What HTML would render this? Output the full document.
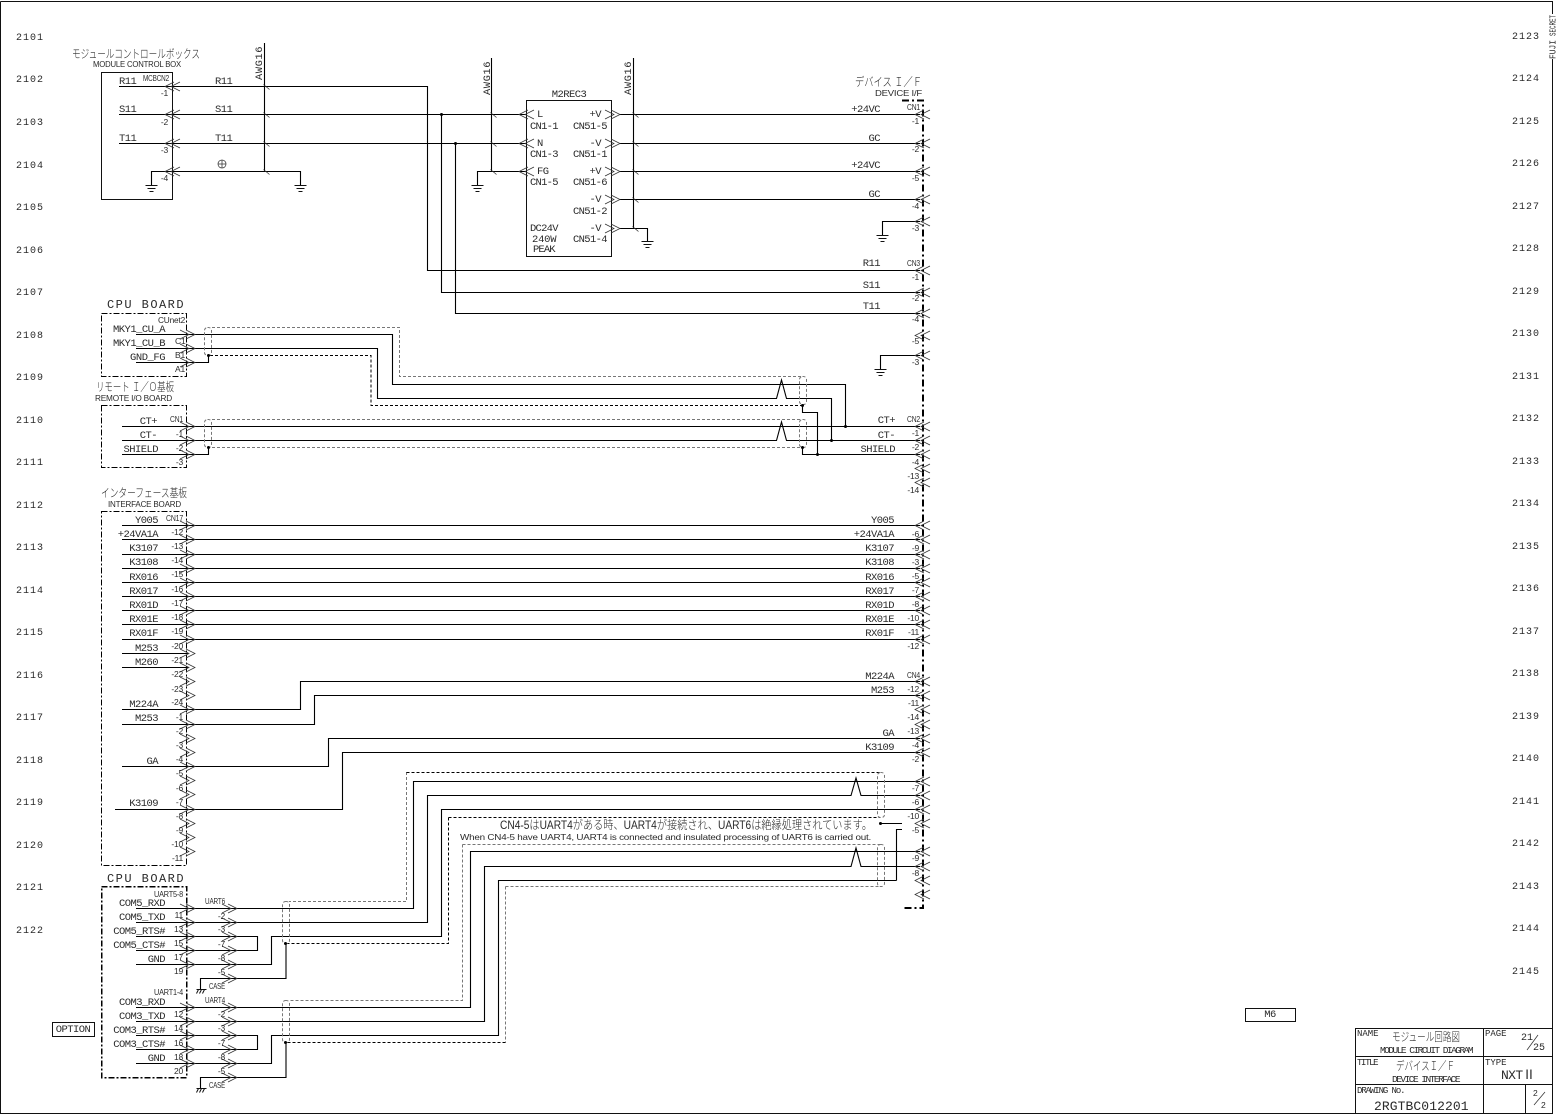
<!DOCTYPE html>
<html lang="ja"><head><meta charset="utf-8"><title>Module circuit diagram</title>
<style>
html,body{margin:0;padding:0;background:#fff}
svg{display:block}
text{fill:#2a2a2a;font-family:"Liberation Mono","Noto Sans CJK JP",monospace;font-size:10.5px;letter-spacing:-.55px}
text:not([transform]):not(.s):not(.j){transform:translateY(-1px)}
.e{text-anchor:end}
.m{text-anchor:middle}
.s{font-family:"Liberation Sans",sans-serif;font-size:8.5px;letter-spacing:-.2px}
.n{font-size:10px;letter-spacing:0}
.j{font-family:"Liberation Sans","Noto Sans CJK JP",sans-serif;font-size:12px;letter-spacing:0;font-weight:300}
.w{fill:none;stroke:#000;stroke-width:1.1}
.c{fill:none;stroke:#333;stroke-width:.75}
.k{fill:none;stroke:#000;stroke-width:1;stroke-dasharray:3 2}
.y{fill:none;stroke:#777;stroke-width:1;stroke-dasharray:3 2}
.b{fill:none;stroke:#000;stroke-width:1;stroke-dasharray:6 2 2 2}
.B{fill:none;stroke:#000;stroke-width:2;stroke-dasharray:7 3 2 3}
.f{fill:none;stroke:#111;stroke-width:1}
</style></head><body>
<svg width="1556" height="1114" viewBox="0 0 1556 1114" xmlns="http://www.w3.org/2000/svg">
<defs>
<path id="l" class="c" d="M9-4.5L0 0L9 4.5M15-4.5L6 0L15 4.5"/>
<path id="r" class="c" d="M-9-4.5L0 0L-9 4.5M-15-4.5L-6 0L-15 4.5"/>
<path id="g" class="f" d="M-6 0H6M-4 3H4M-2 6H2"/>
<path id="t" class="c" d="M-1-2L5 3"/>
<path id="h" class="f" d="M-5 0H5M-5 4L-3 0M-2 4L0 0M1 4L3 0"/>
</defs>
<rect width="1556" height="1114" fill="#fff"/>
<!-- frame -->
<path class="f" d="M0.5 1.5H1552.5V14M1552.5 59V1113.5H0.5V1.5"/>
<text transform="translate(1555.5,36) rotate(-90)" textLength="21" lengthAdjust="spacingAndGlyphs" style="font-size:9.5px;letter-spacing:0">SECRET</text>
<text transform="translate(1555.5,59) rotate(-90)" textLength="19" lengthAdjust="spacingAndGlyphs" style="font-size:9.5px;letter-spacing:0">FUJI</text>
<!-- row numbers left -->
<g class="rn">
<text class="n" x="16" y="41" textLength="27">2101</text>
<text class="n" x="16" y="83" textLength="27">2102</text>
<text class="n" x="16" y="126" textLength="27">2103</text>
<text class="n" x="16" y="169" textLength="27">2104</text>
<text class="n" x="16" y="211" textLength="27">2105</text>
<text class="n" x="16" y="254" textLength="27">2106</text>
<text class="n" x="16" y="296" textLength="27">2107</text>
<text class="n" x="16" y="339" textLength="27">2108</text>
<text class="n" x="16" y="381" textLength="27">2109</text>
<text class="n" x="16" y="424" textLength="27">2110</text>
<text class="n" x="16" y="466" textLength="27">2111</text>
<text class="n" x="16" y="509" textLength="27">2112</text>
<text class="n" x="16" y="551" textLength="27">2113</text>
<text class="n" x="16" y="594" textLength="27">2114</text>
<text class="n" x="16" y="636" textLength="27">2115</text>
<text class="n" x="16" y="679" textLength="27">2116</text>
<text class="n" x="16" y="721" textLength="27">2117</text>
<text class="n" x="16" y="764" textLength="27">2118</text>
<text class="n" x="16" y="806" textLength="27">2119</text>
<text class="n" x="16" y="849" textLength="27">2120</text>
<text class="n" x="16" y="891" textLength="27">2121</text>
<text class="n" x="16" y="934" textLength="27">2122</text>
<text class="n" x="1512" y="40" textLength="27">2123</text>
<text class="n" x="1512" y="82" textLength="27">2124</text>
<text class="n" x="1512" y="125" textLength="27">2125</text>
<text class="n" x="1512" y="167" textLength="27">2126</text>
<text class="n" x="1512" y="210" textLength="27">2127</text>
<text class="n" x="1512" y="252" textLength="27">2128</text>
<text class="n" x="1512" y="295" textLength="27">2129</text>
<text class="n" x="1512" y="337" textLength="27">2130</text>
<text class="n" x="1512" y="380" textLength="27">2131</text>
<text class="n" x="1512" y="422" textLength="27">2132</text>
<text class="n" x="1512" y="465" textLength="27">2133</text>
<text class="n" x="1512" y="507" textLength="27">2134</text>
<text class="n" x="1512" y="550" textLength="27">2135</text>
<text class="n" x="1512" y="592" textLength="27">2136</text>
<text class="n" x="1512" y="635" textLength="27">2137</text>
<text class="n" x="1512" y="677" textLength="27">2138</text>
<text class="n" x="1512" y="720" textLength="27">2139</text>
<text class="n" x="1512" y="762" textLength="27">2140</text>
<text class="n" x="1512" y="805" textLength="27">2141</text>
<text class="n" x="1512" y="847" textLength="27">2142</text>
<text class="n" x="1512" y="890" textLength="27">2143</text>
<text class="n" x="1512" y="932" textLength="27">2144</text>
<text class="n" x="1512" y="975" textLength="27">2145</text>
</g>

<!-- boxes -->
<g class="f" shape-rendering="crispEdges">
<rect x="101.5" y="72.5" width="71" height="127"/>
<rect x="526.5" y="100.5" width="85" height="156"/>
<rect x="1245.5" y="1008.5" width="50" height="13"/>
<rect x="52.5" y="1022.5" width="42" height="14"/>
<path d="M1355.5 1113V1028.5H1552M1483.5 1028.5V1113M1355.5 1056.5H1552M1355.5 1084.5H1552M1525.5 1084.5V1113"/>
</g>
<g shape-rendering="crispEdges">
<rect class="b" x="101.5" y="313.5" width="85" height="63"/>
<rect class="b" x="101.5" y="405.5" width="85" height="62"/>
<rect class="b" x="101.5" y="511.5" width="85" height="354"/>
<rect class="b" style="stroke-width:1.5" x="101.5" y="886.5" width="85" height="191"/>
<path class="B" d="M902 100.5H923V908H902"/>
</g>

<!-- solid wires -->
<path class="w" d="M119 86.5H427.5V270.5H920M119 114.5H527M119 143.5H527M441.5 114.5V292.5H920M455.5 143.5V313.5H920M151.5 185V171.5H300.5V185M477.5 185V171.5H527
M620 114.5H920M620 143.5H920M620 171.5H920M620 199.5H920M620 228.5H647.5V241M882.5 235V221.5H920M880.5 369V355.5H920
M264.5 43V171M491.5 58V171M633.5 58V228
M136 334.5H392.5V384.5H845.5V426.5M136 348.5H377.5V398.5H776.5L781.5 380L786.5 398.5H831.5V440.5M136 362.5H208.5V355
M122 426.5H920M122 440.5H776.5L781.5 422L786.5 440.5H920M122 454.5H208.5V447M802.5 447V454.5H920M802.5 405V412.5H817.5V454.5
M122 525.5H920M122 539.5H920M122 554.5H920M122 568.5H920M122 582.5H920M122 596.5H920M122 610.5H920M122 624.5H920M122 639.5H920M122 653.5H188M122 667.5H188
M122 709.5H300.5V681.5H920M122 724.5H314.5V695.5H920M122 766.5H328.5V738.5H920M115 809.5H342.5V752.5H920
M136 908.5H413.5V781.5H920M136 922.5H427.5V795.5H851L856 778L861 795.5H920M136 936.5H257.5V950.5H136M136 964.5H271.5V936.5H441.5V809.5H920M200.5 989V978.5H286V943
M880.5 823.5H902M896.5 880.5V829.5H902
M136 1007.5H470.5V851.5H920M136 1021.5H484.5V866.5H851L856 848L861 866.5H920M136 1035.5H257.5V1049.5H136M136 1063.5H271.5V1035.5H498.5V880.5H896.5M200.5 1088V1077.5H286V1042"/>

<!-- dashed wires and shields -->
<path class="y" d="M212 327.5H399.5V376.5H802M212 419.5H802M212 447.5H802M406.5 772V901.5H289M462.5 844.5V1000.5H289M462.5 844.5H880M505.5 886.5V1042.5M505.5 886.5H880"/>
<path class="k" d="M210 355.5H371V405.5H802M406.5 772.5H880M448.5 817.5H880M448.5 817.5V943.5H286M505.5 1042.5H286"/>
<g class="y">
<rect class="y" x="204.5" y="327.5" width="7" height="28" rx="3"/>
<rect class="y" x="204.5" y="419.5" width="7" height="28" rx="3"/>
<rect class="y" x="799.5" y="376.5" width="7" height="28" rx="3"/>
<rect class="y" x="799.5" y="419.5" width="7" height="28" rx="3"/>
<rect class="y" x="877.5" y="772.5" width="7" height="45" rx="3"/>
<rect class="y" x="877.5" y="844.5" width="7" height="42" rx="3"/>
<rect class="y" x="282.5" y="901.5" width="7" height="42" rx="3"/>
<rect class="y" x="282.5" y="1000.5" width="7" height="42" rx="3"/>
</g>
<!-- dots -->
<g fill="#000">
<circle cx="441.5" cy="114.5" r="1.5"/><circle cx="455.5" cy="143.5" r="1.5"/>
<circle cx="208.5" cy="355.5" r="1.5"/><circle cx="208.5" cy="447.5" r="1.5"/>
<circle cx="802.5" cy="405.5" r="1.5"/><circle cx="802.5" cy="447.5" r="1.5"/>
<circle cx="845.5" cy="426.5" r="1.5"/><circle cx="831.5" cy="440.5" r="1.5"/><circle cx="817.5" cy="454.5" r="1.5"/>
<circle cx="285.5" cy="943.5" r="1.5"/><circle cx="285.5" cy="1042.5" r="1.5"/><circle cx="880.5" cy="823.5" r="1.5"/>
</g>
<!-- AWG ticks -->
<use href="#t" x="264.5" y="86.5"/><use href="#t" x="264.5" y="114.5"/><use href="#t" x="264.5" y="143.5"/><use href="#t" x="264.5" y="171.5"/>
<use href="#t" x="491.5" y="114.5"/><use href="#t" x="491.5" y="143.5"/><use href="#t" x="491.5" y="171.5"/>
<use href="#t" x="633.5" y="114.5"/><use href="#t" x="633.5" y="143.5"/><use href="#t" x="633.5" y="171.5"/><use href="#t" x="633.5" y="199.5"/><use href="#t" x="633.5" y="228.5"/>
<!-- grounds -->
<use href="#g" x="151.5" y="185.5"/><use href="#g" x="300.5" y="185.5"/><use href="#g" x="477.5" y="185.5"/><use href="#g" x="647.5" y="241.5"/><use href="#g" x="882.5" y="235.5"/><use href="#g" x="880.5" y="369.5"/>
<use href="#h" x="201.5" y="989.5"/><use href="#h" x="201.5" y="1088.5"/>
<circle class="c" cx="222" cy="164" r="4"/><path class="c" d="M218 164H226M222 160V168"/>

<!-- chevrons: module/M2REC3 -->
<use href="#l" x="165" y="86.5"/><use href="#l" x="165" y="114.5"/><use href="#l" x="165" y="143.5"/><use href="#l" x="165" y="171.5"/>
<use href="#l" x="519" y="114.5"/><use href="#l" x="519" y="143.5"/><use href="#l" x="519" y="171.5"/>
<use href="#r" x="620" y="114.5"/><use href="#r" x="620" y="143.5"/><use href="#r" x="620" y="171.5"/><use href="#r" x="620" y="199.5"/><use href="#r" x="620" y="228.5"/>
<!-- device chevrons -->
<use href="#l" x="915" y="114.5"/><use href="#l" x="915" y="143.5"/><use href="#l" x="915" y="171.5"/><use href="#l" x="915" y="199.5"/><use href="#l" x="915" y="221.5"/>
<use href="#l" x="915" y="270.5"/><use href="#l" x="915" y="292.5"/><use href="#l" x="915" y="313.5"/><use href="#l" x="915" y="335.5"/><use href="#l" x="915" y="355.5"/>
<use href="#l" x="915" y="426.5"/><use href="#l" x="915" y="440.5"/><use href="#l" x="915" y="454.5"/><use href="#l" x="915" y="468.5"/><use href="#l" x="915" y="482.5"/>
<use href="#l" x="915" y="525.5"/><use href="#l" x="915" y="539.5"/><use href="#l" x="915" y="554.5"/><use href="#l" x="915" y="568.5"/><use href="#l" x="915" y="582.5"/><use href="#l" x="915" y="596.5"/><use href="#l" x="915" y="610.5"/><use href="#l" x="915" y="624.5"/><use href="#l" x="915" y="639.5"/>
<use href="#l" x="915" y="681.5"/><use href="#l" x="915" y="695.5"/><use href="#l" x="915" y="709.5"/><use href="#l" x="915" y="724.5"/><use href="#l" x="915" y="738.5"/><use href="#l" x="915" y="752.5"/>
<use href="#l" x="915" y="781.5"/><use href="#l" x="915" y="795.5"/><use href="#l" x="915" y="809.5"/><use href="#l" x="915" y="823.5"/><use href="#l" x="915" y="851.5"/><use href="#l" x="915" y="866.5"/><use href="#l" x="915" y="880.5"/><use href="#l" x="915" y="894.5"/>
<!-- board chevrons -->
<use href="#r" x="195" y="334.5"/><use href="#r" x="195" y="348.5"/><use href="#r" x="195" y="362.5"/>
<use href="#r" x="195" y="426.5"/><use href="#r" x="195" y="440.5"/><use href="#r" x="195" y="454.5"/>
<use href="#r" x="195" y="525.5"/><use href="#r" x="195" y="539.5"/><use href="#r" x="195" y="554.5"/><use href="#r" x="195" y="568.5"/><use href="#r" x="195" y="582.5"/><use href="#r" x="195" y="596.5"/><use href="#r" x="195" y="610.5"/><use href="#r" x="195" y="624.5"/><use href="#r" x="195" y="639.5"/><use href="#r" x="195" y="653.5"/><use href="#r" x="195" y="667.5"/><use href="#r" x="195" y="681.5"/><use href="#r" x="195" y="695.5"/><use href="#r" x="195" y="709.5"/><use href="#r" x="195" y="724.5"/><use href="#r" x="195" y="738.5"/><use href="#r" x="195" y="752.5"/><use href="#r" x="195" y="766.5"/><use href="#r" x="195" y="780.5"/><use href="#r" x="195" y="794.5"/><use href="#r" x="195" y="809.5"/><use href="#r" x="195" y="823.5"/><use href="#r" x="195" y="837.5"/><use href="#r" x="195" y="851.5"/>
<use href="#r" x="195" y="908.5"/><use href="#r" x="195" y="922.5"/><use href="#r" x="195" y="936.5"/><use href="#r" x="195" y="950.5"/><use href="#r" x="195" y="964.5"/>
<use href="#r" x="237" y="908.5"/><use href="#r" x="237" y="922.5"/><use href="#r" x="237" y="936.5"/><use href="#r" x="237" y="950.5"/><use href="#r" x="237" y="964.5"/><use href="#r" x="237" y="978.5"/>
<use href="#r" x="195" y="1007.5"/><use href="#r" x="195" y="1021.5"/><use href="#r" x="195" y="1035.5"/><use href="#r" x="195" y="1049.5"/><use href="#r" x="195" y="1063.5"/>
<use href="#r" x="237" y="1007.5"/><use href="#r" x="237" y="1021.5"/><use href="#r" x="237" y="1035.5"/><use href="#r" x="237" y="1049.5"/><use href="#r" x="237" y="1063.5"/><use href="#r" x="237" y="1077.5"/>

<!-- module control box text -->
<text class="j" x="72" y="58" textLength="128" lengthAdjust="spacingAndGlyphs">モジュールコントロールボックス</text>
<text class="s" x="93" y="67" textLength="88" lengthAdjust="spacingAndGlyphs">MODULE CONTROL BOX</text>
<text x="119" y="85">R11</text><text x="119" y="113">S11</text><text x="119" y="142">T11</text>
<text x="215" y="85">R11</text><text x="215" y="113">S11</text><text x="215" y="142">T11</text>
<text class="s" x="143" y="81" textLength="26" lengthAdjust="spacingAndGlyphs">MCBCN2</text>
<text class="s e" x="168" y="96">-1</text><text class="s e" x="168" y="125">-2</text><text class="s e" x="168" y="153">-3</text><text class="s e" x="168" y="181">-4</text>
<text transform="translate(262,80) rotate(-90)" textLength="33">AWG16</text>
<text transform="translate(490,95) rotate(-90)" textLength="33">AWG16</text>
<text transform="translate(631,95) rotate(-90)" textLength="33">AWG16</text>
<!-- M2REC3 -->
<text class="m" x="569" y="98">M2REC3</text>
<text x="537" y="118">L</text><text x="530" y="130" textLength="28">CN1-1</text>
<text x="537" y="147">N</text><text x="530" y="158" textLength="28">CN1-3</text>
<text x="537" y="175">FG</text><text x="530" y="186" textLength="28">CN1-5</text>
<text class="e" x="601" y="118">+V</text><text x="573" y="130" textLength="34">CN51-5</text>
<text class="e" x="601" y="147">-V</text><text x="573" y="158" textLength="34">CN51-1</text>
<text class="e" x="601" y="175">+V</text><text x="573" y="186" textLength="34">CN51-6</text>
<text class="e" x="601" y="203">-V</text><text x="573" y="215" textLength="34">CN51-2</text>
<text class="e" x="601" y="232">-V</text><text x="573" y="243" textLength="34">CN51-4</text>
<text x="530" y="232" textLength="28">DC24V</text><text x="532" y="243" textLength="24">240W</text><text x="533" y="253" textLength="22">PEAK</text>
<!-- device labels -->
<text class="j" x="855" y="86" textLength="67" lengthAdjust="spacingAndGlyphs">デバイス Ｉ／Ｆ</text>
<text class="s e" x="922" y="96" textLength="47" lengthAdjust="spacingAndGlyphs">DEVICE I/F</text>
<text class="s" x="907" y="110" textLength="13" lengthAdjust="spacingAndGlyphs">CN1</text>
<text class="e" x="880" y="113">+24VC</text><text class="e" x="880" y="142">GC</text><text class="e" x="880" y="169">+24VC</text><text class="e" x="880" y="198">GC</text>
<text class="e" x="880" y="267">R11</text><text class="e" x="880" y="289">S11</text><text class="e" x="880" y="310">T11</text>
<text class="s" x="907" y="266" textLength="13" lengthAdjust="spacingAndGlyphs">CN3</text>
<text class="s e" x="919" y="124">-1</text><text class="s e" x="919" y="152">-2</text><text class="s e" x="919" y="181">-5</text><text class="s e" x="919" y="209">-4</text><text class="s e" x="919" y="231">-3</text>
<text class="s e" x="919" y="280">-1</text><text class="s e" x="919" y="301">-2</text><text class="s e" x="919" y="322">-4</text><text class="s e" x="919" y="344">-5</text><text class="s e" x="919" y="365">-3</text>
<!-- CPU board 1 -->
<text x="107" y="309" textLength="76" style="font-size:12px">CPU BOARD</text>
<text class="s" x="158" y="323" textLength="27" lengthAdjust="spacingAndGlyphs">CUnet2</text>
<text x="113" y="333" textLength="52">MKY1_CU_A</text><text x="113" y="347" textLength="52">MKY1_CU_B</text><text x="130" y="361" textLength="35">GND_FG</text>
<text class="s" x="175" y="344">C1</text><text class="s" x="175" y="358">B1</text><text class="s" x="175" y="372">A1</text>
<!-- remote -->
<text class="j" x="96" y="391" textLength="78" lengthAdjust="spacingAndGlyphs">リモート Ｉ／Ｏ基板</text>
<text class="s" x="95" y="401" textLength="77" lengthAdjust="spacingAndGlyphs">REMOTE I/O BOARD</text>
<text class="s" x="170" y="422" textLength="13" lengthAdjust="spacingAndGlyphs">CN1</text>
<text class="e" x="157" y="425">CT+</text><text class="e" x="157" y="439">CT-</text><text class="e" x="158" y="453">SHIELD</text>
<text class="s e" x="183" y="437">-1</text><text class="s e" x="183" y="451">-2</text><text class="s e" x="183" y="465">-3</text>
<text class="e" x="895" y="424">CT+</text><text class="e" x="895" y="439">CT-</text><text class="e" x="895" y="453">SHIELD</text>
<text class="s" x="907" y="422" textLength="13" lengthAdjust="spacingAndGlyphs">CN2</text>
<text class="s e" x="919" y="436">-1</text><text class="s e" x="919" y="450">-2</text><text class="s e" x="919" y="465">-4</text><text class="s e" x="919" y="479">-13</text><text class="s e" x="919" y="493">-14</text>
<!-- interface left -->
<text class="j" x="101" y="497" textLength="86" lengthAdjust="spacingAndGlyphs">インターフェース基板</text>
<text class="s" x="108" y="507" textLength="73" lengthAdjust="spacingAndGlyphs">INTERFACE BOARD</text>
<text class="s" x="166" y="521" textLength="17" lengthAdjust="spacingAndGlyphs">CN17</text>
<text class="e" x="158" y="524">Y005</text><text class="e" x="158" y="538">+24VA1A</text><text class="e" x="158" y="552">K3107</text><text class="e" x="158" y="566">K3108</text><text class="e" x="158" y="581">RX016</text><text class="e" x="158" y="595">RX017</text><text class="e" x="158" y="609">RX01D</text><text class="e" x="158" y="623">RX01E</text><text class="e" x="158" y="637">RX01F</text><text class="e" x="158" y="652">M253</text><text class="e" x="158" y="666">M260</text><text class="e" x="158" y="708">M224A</text><text class="e" x="158" y="722">M253</text><text class="e" x="158" y="765">GA</text><text class="e" x="158" y="807">K3109</text>
<text class="s e" x="183" y="535">-12</text><text class="s e" x="183" y="549">-13</text><text class="s e" x="183" y="563">-14</text><text class="s e" x="183" y="577">-15</text><text class="s e" x="183" y="592">-16</text><text class="s e" x="183" y="606">-17</text><text class="s e" x="183" y="620">-18</text><text class="s e" x="183" y="634">-19</text><text class="s e" x="183" y="649">-20</text><text class="s e" x="183" y="663">-21</text><text class="s e" x="183" y="677">-22</text><text class="s e" x="183" y="692">-23</text><text class="s e" x="183" y="705">-24</text><text class="s e" x="183" y="720">-1</text><text class="s e" x="183" y="734">-2</text><text class="s e" x="183" y="748">-3</text><text class="s e" x="183" y="762">-4</text><text class="s e" x="183" y="776">-5</text><text class="s e" x="183" y="791">-6</text><text class="s e" x="183" y="805">-7</text><text class="s e" x="183" y="819">-8</text><text class="s e" x="183" y="833">-9</text><text class="s e" x="183" y="847">-10</text><text class="s e" x="183" y="861">-11</text>
<!-- interface right -->
<text class="e" x="894" y="524">Y005</text><text class="e" x="894" y="538">+24VA1A</text><text class="e" x="894" y="552">K3107</text><text class="e" x="894" y="566">K3108</text><text class="e" x="894" y="581">RX016</text><text class="e" x="894" y="595">RX017</text><text class="e" x="894" y="609">RX01D</text><text class="e" x="894" y="623">RX01E</text><text class="e" x="894" y="637">RX01F</text><text class="e" x="894" y="680">M224A</text><text class="e" x="894" y="694">M253</text><text class="e" x="894" y="737">GA</text><text class="e" x="894" y="751">K3109</text>
<text class="s e" x="919" y="537">-6</text><text class="s e" x="919" y="551">-9</text><text class="s e" x="919" y="565">-3</text><text class="s e" x="919" y="579">-5</text><text class="s e" x="919" y="593">-7</text><text class="s e" x="919" y="607">-8</text><text class="s e" x="919" y="621">-10</text><text class="s e" x="919" y="635">-11</text><text class="s e" x="919" y="649">-12</text>
<text class="s" x="907" y="678" textLength="13" lengthAdjust="spacingAndGlyphs">CN4</text>
<text class="s e" x="919" y="692">-12</text><text class="s e" x="919" y="706">-11</text><text class="s e" x="919" y="720">-14</text><text class="s e" x="919" y="734">-13</text><text class="s e" x="919" y="748">-4</text><text class="s e" x="919" y="762">-2</text>
<text class="s e" x="919" y="791">-7</text><text class="s e" x="919" y="805">-6</text><text class="s e" x="919" y="819">-10</text><text class="s e" x="919" y="833">-5</text><text class="s e" x="919" y="861">-9</text><text class="s e" x="919" y="876">-8</text>
<!-- note -->
<text class="j" x="500" y="829" textLength="372" lengthAdjust="spacingAndGlyphs">CN4-5はUART4がある時、UART4が接続され、UART6は絶縁処理されています。</text>
<text class="s" x="460" y="840" textLength="411" lengthAdjust="spacingAndGlyphs">When CN4-5 have UART4, UART4 is connected and insulated processing of UART6 is carried out.</text>
<!-- CPU board 2 -->
<text x="107" y="883" textLength="76" style="font-size:12px">CPU BOARD</text>
<text class="s" x="154" y="897" textLength="29" lengthAdjust="spacingAndGlyphs">UART5-8</text>
<text class="e" x="165" y="907">COM5_RXD</text><text class="e" x="165" y="921">COM5_TXD</text><text class="e" x="165" y="935">COM5_RTS#</text><text class="e" x="165" y="949">COM5_CTS#</text><text class="e" x="165" y="963">GND</text>
<text class="s e" x="183" y="918">11</text><text class="s e" x="183" y="932">13</text><text class="s e" x="183" y="946">15</text><text class="s e" x="183" y="960">17</text><text class="s e" x="183" y="974">19</text>
<text class="s" x="205" y="904" textLength="20" lengthAdjust="spacingAndGlyphs">UART6</text>
<text class="s e" x="225" y="919">-2</text><text class="s e" x="225" y="932">-3</text><text class="s e" x="225" y="947">-7</text><text class="s e" x="225" y="961">-8</text><text class="s e" x="225" y="975">-5</text>
<text class="s" x="209" y="989" textLength="16" lengthAdjust="spacingAndGlyphs">CASE</text>
<text class="s" x="154" y="995" textLength="29" lengthAdjust="spacingAndGlyphs">UART1-4</text>
<text class="e" x="165" y="1006">COM3_RXD</text><text class="e" x="165" y="1020">COM3_TXD</text><text class="e" x="165" y="1034">COM3_RTS#</text><text class="e" x="165" y="1048">COM3_CTS#</text><text class="e" x="165" y="1062">GND</text>
<text class="s e" x="183" y="1017">12</text><text class="s e" x="183" y="1031">14</text><text class="s e" x="183" y="1046">16</text><text class="s e" x="183" y="1060">18</text><text class="s e" x="183" y="1074">20</text>
<text class="s" x="205" y="1003" textLength="20" lengthAdjust="spacingAndGlyphs">UART4</text>
<text class="s e" x="225" y="1017">-2</text><text class="s e" x="225" y="1031">-3</text><text class="s e" x="225" y="1046">-7</text><text class="s e" x="225" y="1060">-8</text><text class="s e" x="225" y="1074">-5</text>
<text class="s" x="209" y="1088" textLength="16" lengthAdjust="spacingAndGlyphs">CASE</text>
<text class="m" x="73" y="1033">OPTION</text>
<text class="m" x="1270" y="1018">M6</text>
<!-- title block -->
<text x="1357" y="1037" textLength="21" style="font-size:9px">NAME</text>
<text class="j" x="1392" y="1041" textLength="68" lengthAdjust="spacingAndGlyphs">モジュール回路図</text>
<text x="1380" y="1054" textLength="93" style="font-size:9.5px">MODULE CIRCUIT DIAGRAM</text>
<text x="1485" y="1037" textLength="21" style="font-size:9px">PAGE</text>
<text x="1521" y="1041" style="font-size:10px;letter-spacing:0">21</text><path class="c" d="M1527 1050L1538 1035"/><text x="1533" y="1051" style="font-size:10px;letter-spacing:0">25</text>
<text x="1357" y="1066" textLength="21" style="font-size:9px">TITLE</text>
<text class="j" x="1396" y="1070" textLength="59" lengthAdjust="spacingAndGlyphs">デバイスＩ／Ｆ</text>
<text x="1392" y="1083" textLength="68" style="font-size:9.5px">DEVICE INTERFACE</text>
<text x="1485" y="1066" textLength="21" style="font-size:9px">TYPE</text>
<text x="1501" y="1080" textLength="34" style="font-size:13px">NXTⅡ</text>
<text x="1357" y="1094" textLength="48" style="font-size:9px">DRAWING No.</text>
<text x="1374" y="1111" textLength="94" style="font-size:13px">2RGTBC012201</text>
<text class="s" x="1533" y="1096">2</text><path class="c" d="M1534 1105L1545 1092"/><text class="s" x="1541" y="1108">2</text>
</svg>
</body></html>
